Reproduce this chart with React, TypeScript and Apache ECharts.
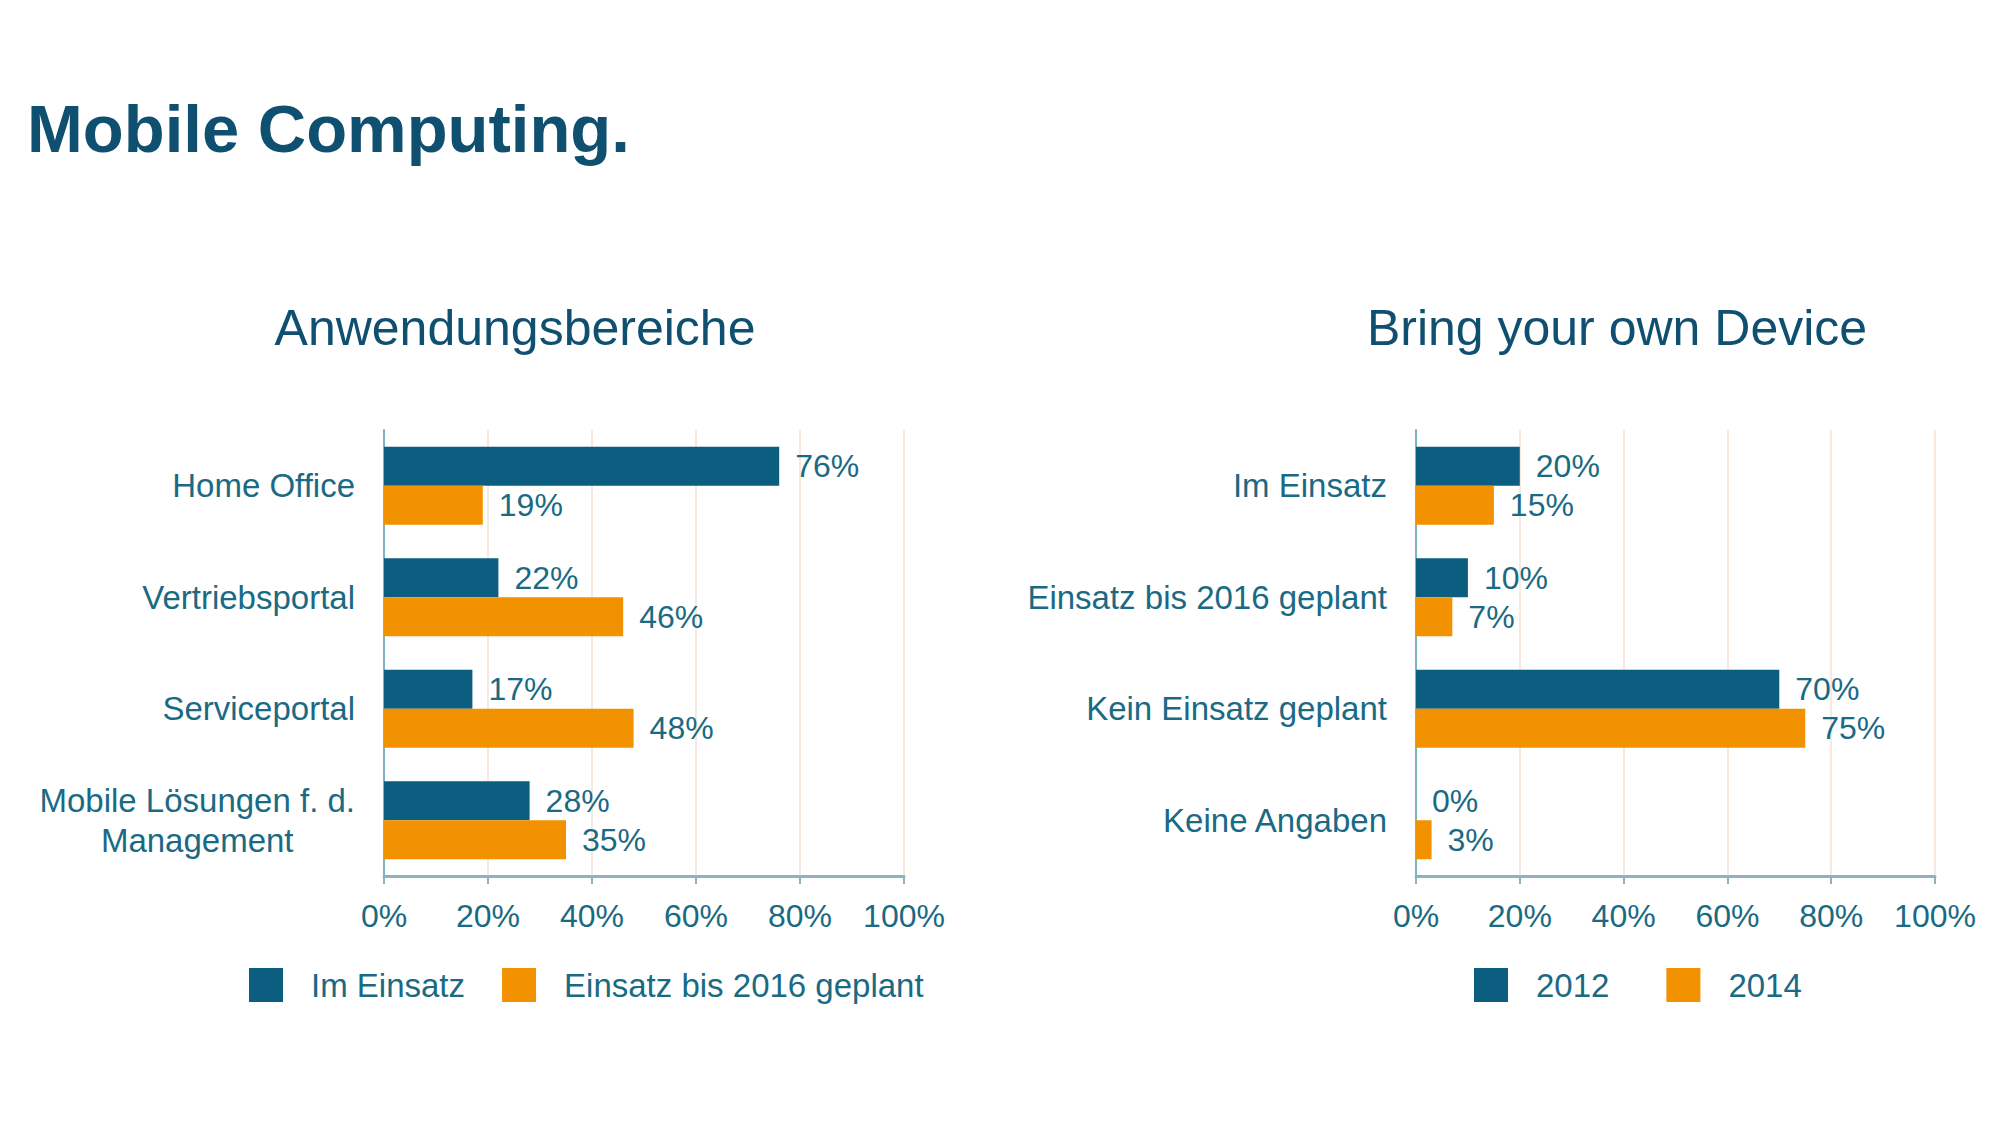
import React, { useEffect, useRef } from "react";
import * as echarts from "echarts";

const leftCategories = ["Home Office", "Vertriebsportal", "Serviceportal", "Mobile Lösungen f. d.\nManagement"];
const leftSeriesNames = ["Im Einsatz", "Einsatz bis 2016 geplant"];
const leftInUse = [76, 22, 17, 28];
const leftPlanned = [19, 46, 48, 35];

const rightCategories = ["Im Einsatz", "Einsatz bis 2016 geplant", "Kein Einsatz geplant", "Keine Angaben"];
const rightSeriesNames = ["2012", "2014"];
const right2012 = [20, 10, 70, 0];
const right2014 = [15, 7, 75, 3];

const mainTitle = "Mobile Computing.";
const leftTitle = "Anwendungsbereiche";
const rightTitle = "Bring your own Device";

const BLUE = "#0b5e80";
const ORANGE = "#f39200";
const TEXT = "#1a6a84";
const TITLE = "#0f4f70";
const FONT = "'Liberation Sans', Arial, sans-serif";

export default function App() {
  const ref = useRef<HTMLDivElement>(null);
  useEffect(() => {
    if (!ref.current) return;
    const chart = echarts.init(ref.current, null, { renderer: "svg" });
    const catLabel = {
      color: TEXT,
      fontSize: 33,
      fontFamily: FONT,
      margin: 29,
      lineHeight: 40,
      formatter: (v: string) =>
        v.indexOf("\n") >= 0 ? v.split("\n").map((l) => `{c|${l}}`).join("\n") : v,
      rich: { c: { align: "center", color: TEXT, fontSize: 33, fontFamily: FONT, lineHeight: 40 } },
    };
    const valAxis = (gridIndex: number) => ({
      type: "value",
      gridIndex,
      min: 0,
      max: 100,
      interval: 20,
      axisLine: { show: true, lineStyle: { color: "#8db3c2", width: 3 } },
      axisTick: { show: true, length: 8, lineStyle: { color: "#8db3c2", width: 2 } },
      splitLine: { show: true, lineStyle: { color: "#f7e9df", width: 2 } },
      axisLabel: { color: TEXT, fontSize: 32, fontFamily: FONT, margin: 24, formatter: "{value}%" },
    });
    const catAxis = (gridIndex: number, data: string[]) => ({
      type: "category",
      gridIndex,
      data,
      inverse: true,
      axisLine: { show: true, lineStyle: { color: "#7fb0c4", width: 2 } },
      axisTick: { show: false },
      axisLabel: catLabel,
    });
    const barLabel = {
      show: true,
      position: "right",
      distance: 16,
      color: TEXT,
      fontSize: 32,
      fontFamily: FONT,
      formatter: "{c}%",
    };
    const bar = (name: string, data: number[], color: string, idx: number) => ({
      type: "bar",
      name,
      data,
      xAxisIndex: idx,
      yAxisIndex: idx,
      barCategoryGap: "30%",
      barGap: "0%",
      itemStyle: { color },
      label: barLabel,
    });
    const legendText = { color: TEXT, fontSize: 33, fontFamily: FONT, padding: [0, 0, 0, 23] };
    chart.setOption({
      animation: false,
      backgroundColor: "#ffffff",
      title: [
        {
          text: mainTitle,
          left: 22,
          top: 90,
          textStyle: { color: TITLE, fontSize: 67, fontWeight: "bold", fontFamily: FONT },
        },
        {
          text: leftTitle,
          left: 510,
          textAlign: "center",
          top: 298,
          textStyle: { color: TITLE, fontSize: 50, fontWeight: "normal", fontFamily: FONT },
        },
        {
          text: rightTitle,
          left: 1612,
          textAlign: "center",
          top: 298,
          textStyle: { color: TITLE, fontSize: 50, fontWeight: "normal", fontFamily: FONT },
        },
      ],
      legend: [
        {
          data: leftSeriesNames,
          left: 244,
          top: 963,
          icon: "rect",
          itemWidth: 34,
          itemHeight: 34,
          itemGap: 37,
          textStyle: legendText,
        },
        {
          data: rightSeriesNames,
          left: 1469,
          top: 963,
          icon: "rect",
          itemWidth: 34,
          itemHeight: 34,
          itemGap: 57,
          textStyle: legendText,
        },
      ],
      grid: [
        { left: 384, right: 1096, top: 430, bottom: 248, containLabel: false },
        { left: 1416, right: 65, top: 430, bottom: 248, containLabel: false },
      ],
      xAxis: [valAxis(0), valAxis(1)],
      yAxis: [catAxis(0, leftCategories), catAxis(1, rightCategories)],
      series: [
        bar(leftSeriesNames[0], leftInUse, BLUE, 0),
        bar(leftSeriesNames[1], leftPlanned, ORANGE, 0),
        bar(rightSeriesNames[0], right2012, BLUE, 1),
        bar(rightSeriesNames[1], right2014, ORANGE, 1),
      ],
    });
    return () => chart.dispose();
  }, []);
  return (
    <div
      ref={ref}
      style={{ position: "fixed", left: 0, top: 0, width: 2000, height: 1124, background: "#fff" }}
    />
  );
}
